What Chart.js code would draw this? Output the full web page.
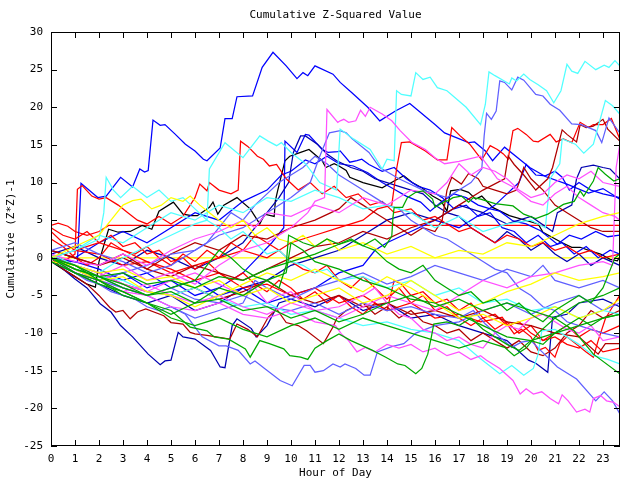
<!DOCTYPE html>
<html>
<head>
<meta charset="utf-8">
<script src="https://cdn.jsdelivr.net/npm/chart.js@4.4.0/dist/chart.umd.min.js"></script>
<style>
  html, body { margin: 0; padding: 0; background: #fff; }
  #wrap { width: 640px; height: 480px; }
</style>
</head>
<body>
<div id="wrap"><canvas id="c" width="640" height="480"></canvas></div>
<script>
// hour of day vs cumulative (Z*Z)-1, points as [hour, value]
const titleText = "Cumulative Z-Squared Value";
const xTitle = "Hour of Day";
const yTitle = "Cumulative (Z*Z)-1";
const yTicks = [-25, -20, -15, -10, -5, 0, 5, 10, 15, 20, 25, 30];
const hourTicks = [0,1,2,3,4,5,6,7,8,9,10,11,12,13,14,15,16,17,18,19,20,21,22,23];

const blueBig = [[0,0],[0.5,-0.3],[1.1,-0.6],[1.25,9.9],[1.95,8.0],[2.3,8.2],[2.9,10.7],[3.4,9.4],[3.7,11.8],[3.9,11.4],[4.05,11.6],[4.25,18.3],[4.55,17.6],[4.75,17.7],[5.15,16.5],[5.6,15.1],[6.0,14.2],[6.35,13.1],[6.5,12.9],[7.05,14.6],[7.25,18.5],[7.55,18.5],[7.75,21.4],[8.4,21.5],[8.8,25.3],[9.25,27.3],[9.8,25.5],[10.25,23.8],[10.5,24.6],[10.7,24.2],[11.0,25.5],[11.75,24.4],[12.05,23.3],[12.55,21.9],[13.2,20],[13.7,18.2],[14.35,19.5],[14.95,20.5],[16.0,17.7],[16.4,16.6],[17.4,15.3],[17.65,15.4],[18.1,14.2],[18.4,12.9],[18.9,14.7],[19.95,12],[20.6,10.8],[21.5,9.8],[22.4,8.6],[23.0,9.2],[23.7,7.8]];
const cyanTop = [[0,0.5],[1,-1],[2,-2],[3,0],[4,1.5],[5,3],[6,4.5],[6.5,5],[6.6,11.8],[7.25,15.3],[8.0,13.3],[8.7,16.2],[9.05,15.5],[9.4,14.9],[9.6,15.3],[10.0,14.0],[10.6,12.5],[11.2,10],[11.9,9],[12.05,17.1],[12.6,15.8],[13.3,14.4],[13.8,11.8],[14.0,13.1],[14.3,12.9],[14.4,22.2],[14.6,21.7],[15.0,21.5],[15.2,24.6],[15.5,23.7],[15.8,24],[16.1,22.6],[16.5,22.2],[16.9,21.1],[17.3,20],[17.9,17.7],[18.1,20.4],[18.25,24.7],[18.5,24.2],[19.1,23.1],[19.2,23.9],[19.4,23.5],[19.7,24.4],[19.95,23.7],[20.3,23],[20.65,22.2],[20.95,20.6],[21.25,22.2],[21.5,25.7],[21.7,24.8],[21.95,24.5],[22.25,26.1],[22.7,25],[23.05,25.6],[23.25,25.3],[23.5,26.2],[23.7,25.5]];
const cyanHigh = [[0,0],[1,1],[2,3],[3,2],[4,4],[5,6],[6,5],[7,7],[8,6],[9,8],[10,7.5],[11,9],[12,8],[13,6.5],[14,7],[15,6],[16,4],[17,5.5],[18,3.5],[19,4.5],[20,5],[20.6,4],[20.8,10.5],[21.2,12.5],[21.3,15.8],[21.85,15.1],[22.2,13.9],[22.6,15.1],[23.1,20.9],[23.4,20.2],[23.7,19.1]];
const lblueHigh = [[0,0],[1,-1.5],[2,-3],[3,-2],[4,-1],[5,0.5],[6,1],[7,3],[8,4],[9,6],[10,8],[10.8,10],[11.2,13.5],[11.6,16.6],[12.05,16.9],[12.3,16.6],[12.55,15.8],[13.25,14],[13.7,12],[14.5,10.5],[15.5,9],[16.5,8],[17.5,10],[17.95,11.8],[18.05,16.2],[18.15,19.2],[18.35,18.4],[18.55,19.5],[18.7,23.5],[18.9,23.3],[19.2,22.3],[19.45,24],[19.7,23.6],[20.2,21.7],[20.5,21.5],[20.8,20.4],[21.2,19.6],[21.7,17.8],[22.1,17.7],[22.7,16.9],[22.95,15.3],[23.25,18.6],[23.7,16.6]];
const magHigh = [[0,0],[1,-1],[2,-2.5],[3,-1],[4,-3],[5,-2],[6,-3.5],[7,-1],[8,1],[9,2],[10,4],[10.7,6],[11.0,7.5],[11.4,8],[11.5,19.7],[11.95,18],[12.05,18.2],[12.2,18.4],[12.4,18],[12.7,18.2],[12.9,19.6],[13.1,18.8],[13.3,20],[13.8,19.1],[14.2,18.2],[14.55,16.9],[15.05,15.3],[15.6,14.4],[16.0,13.3],[16.4,12.5],[17.0,12.8],[17.9,13.5],[18.3,11.8],[18.6,10.5],[19.2,9.5],[20,7.5],[20.5,7],[21,8.5],[21.5,9.5],[22,8],[22.5,7],[23,6],[23.5,5.5],[23.7,5]];
const redHigh = [[0,3.5],[0.5,2],[1,1],[2,0.5],[3,-1],[4,-0.5],[5,-2],[6,-1],[7,0],[8,1],[9,0],[10,2],[11,3],[12,4],[13,5],[13.6,6.5],[14.2,7],[14.4,11.8],[14.6,15.3],[14.95,15.4],[15.6,14.2],[16.1,13],[16.5,13],[16.7,17.3],[17.05,16.2],[17.45,15.1],[17.95,13],[18.3,14.9],[18.6,14.4],[18.85,13.8],[19.05,13.1],[19.25,16.9],[19.45,17.2],[19.8,16.4],[20.1,15.5],[20.3,15.4],[20.8,16.4],[21.05,15.4],[21.35,15.8],[21.7,15.3],[22.05,18],[22.4,17.3],[22.6,17.7],[23.0,17.7],[23.35,18.5],[23.7,15.8]];
const dredHigh = [[0,1],[1,0],[2,-1],[3,0.5],[4,-1.5],[5,-2.5],[6,-1],[7,-2],[8,-3],[9,-1.5],[10,0],[11,1.5],[12,2],[13,3.5],[14,2.5],[15,4],[16,5],[17,7],[18,9],[18.9,10.5],[19.05,13.5],[19.3,12.4],[19.7,11],[20.2,9],[20.7,10.5],[20.9,12],[21.3,17],[21.5,16.4],[21.9,15.4],[22.05,17.7],[22.3,17.3],[22.6,17.5],[23.0,18.4],[23.2,17.1],[23.7,15.5]];
const magEdge = [[0,0],[1,-1.5],[2,-3],[3,-4.5],[4,-3.5],[5,-5],[6,-6],[7,-5],[8,-6.5],[9,-7.5],[10,-6],[11,-7],[12,-8],[13,-6.5],[14,-5],[15,-6],[16,-7],[17,-5],[18,-3],[19,-4],[20,-2.5],[21,-2],[22,-1],[23,-0.5],[23.4,-1],[23.55,12],[23.7,15]];
const dblueTwelve = [[0,0],[1,-2],[2,-3.5],[3,-5],[4,-6],[5,-5],[6,-7],[7,-6],[8,-4],[9,-3],[10,-1],[11,0],[12,1],[13,3],[14,5],[15,6],[16,5],[17,7],[18,6],[19,4.5],[20,5.5],[20.9,3.5],[21.1,6],[21.7,7],[21.9,10.5],[22.1,12],[22.6,12.3],[23.0,12],[23.3,11.8],[23.7,10.5]];
const black1 = [[0,-0.5],[0.5,-1.5],[1,-2.5],[1.5,-3.5],[1.85,-3.9],[2.0,-0.5],[2.4,3.8],[2.8,3.4],[3.3,3.5],[3.8,4.3],[4.2,3.8],[4.5,6.2],[5.1,7.4],[5.5,5.8],[5.85,5.6],[6.1,5.6],[6.6,6.7],[6.75,7.4],[6.95,5.8],[7.2,7],[7.75,8],[8.3,6.5],[8.7,4.5],[8.9,5.8],[9.3,5.5],[9.35,7.6],[9.45,9],[9.75,12.9],[9.95,13.5],[10.4,14],[10.75,14.4],[11.3,12.9],[11.45,12],[11.8,12.5],[12.0,12.2],[12.3,11.6],[12.45,10.7],[13.0,10],[13.8,9.3],[14.3,10.2],[14.7,10.9],[15.05,10],[15.45,9.3],[15.9,8.2],[16.25,7.6],[16.5,6.2],[16.65,8.9],[17.05,9.1],[17.4,8.7],[17.7,7.8],[17.95,8.2],[18.4,6.7],[19.1,5.6],[20.3,4.5],[20.5,3.4],[21.3,2],[21.7,1.4],[22.05,1.4],[22.5,0.9],[22.9,0.5],[23.3,-0.2],[23.6,-0.4],[23.7,0.1]];
const redFlat = [[0,4.3],[0.3,4.6],[0.7,4.2],[1,3.5],[1.5,3],[2,3.5],[2.4,4.3],[23.7,4.3]];
const yellowFlat = [[0,0],[23.7,0]];
const dblueLow = [[0,0],[0.5,-1.5],[1,-2.8],[1.5,-4],[2.05,-6.1],[2.5,-7.2],[2.9,-9],[3.4,-10.5],[4.05,-12.8],[4.55,-14.2],[4.75,-13.7],[5.0,-13.6],[5.3,-9.9],[5.5,-10.5],[6.0,-10.8],[6.65,-12.3],[7.05,-14.5],[7.25,-14.6],[7.55,-9],[7.75,-8.1],[8.35,-9.4],[8.55,-10.5],[9,-9],[9.5,-6],[10,-5.5],[11,-6.5],[12,-5],[13,-7],[14,-6],[15,-8],[16,-7.5],[17,-9],[18,-10],[19,-11],[19.9,-13.6],[20.2,-14],[20.7,-15.2],[20.9,-7.9],[21.5,-7.5],[22,-6],[23,-5.5],[23.7,-6.5]];
const lblueLow = [[0,0],[0.5,-1],[1,-2],[1.5,-3],[2,-3.5],[2.5,-4.5],[3,-5],[3.5,-5.5],[4,-6.5],[4.5,-7],[5,-6.5],[5.6,-7.5],[6.3,-10.5],[7.0,-11.7],[7.3,-11.7],[7.8,-12.3],[8.3,-14.1],[8.5,-13.7],[8.9,-14.7],[9.55,-16.3],[10.05,-17],[10.55,-14.3],[10.8,-14.3],[11.0,-15.2],[11.35,-15],[11.75,-14.1],[12.05,-14.5],[12.25,-14.1],[12.7,-14.7],[13.05,-15.6],[13.3,-15.6],[13.6,-12.5],[14.2,-11.8],[14.7,-11.4],[15.2,-10],[16,-9],[17,-8.5],[18,-7],[19,-6],[20,-7.5],[21,-6],[22,-5],[23,-7],[23.7,-6]];
const magLow = [[0,0],[0.5,-1],[1,-2],[2,-3],[3,-4.5],[4,-5],[5,-6.5],[6,-7],[7,-6],[8,-7.5],[9,-8],[10,-7],[11,-8.5],[11.85,-9],[12.1,-10.1],[12.4,-11],[12.75,-12.5],[13.1,-11.9],[13.5,-12.5],[14,-11.5],[14.5,-12],[15,-11.5],[15.5,-12.5],[16,-12],[16.5,-13],[17,-12.5],[17.5,-13.5],[17.9,-13],[18.15,-13.6],[18.7,-14.7],[19.25,-16.3],[19.55,-18.1],[19.8,-17.4],[20.1,-18.1],[20.45,-17.8],[20.8,-18.7],[21.15,-19.4],[21.3,-18.2],[21.55,-19],[21.9,-20.5],[22.25,-20.1],[22.45,-20.5],[22.6,-18.7],[22.9,-18.3],[23.15,-19],[23.45,-19.2],[23.7,-19.8]];
const lblueEnd = [[0,0],[1,-1.5],[2,-3],[3,-4],[4,-5],[5,-4],[6,-5.5],[7,-6],[8,-5],[9,-6.5],[10,-7],[11,-6],[12,-7.5],[13,-6],[14,-7],[15,-6.5],[16,-7.5],[17,-8],[17.6,-7],[18.1,-8.8],[18.7,-10.5],[19.2,-11.9],[19.6,-11.2],[20.0,-11],[20.4,-12.3],[21.1,-14.5],[21.9,-16.1],[22.7,-19],[23.05,-17.8],[23.4,-19],[23.7,-20.7]];
const greenEnd = [[0,0],[1,-1.5],[2,-2.5],[3,-4],[4,-5],[5,-4.5],[6,-6],[7,-5.5],[8,-7],[9,-6.5],[10,-8],[11,-7],[12,-8.5],[13,-7.5],[14,-6],[15,-5],[16,-6.5],[17,-5.5],[18,-7],[19,-6],[20,-7],[21,-8],[21.8,-9.7],[22.6,-12.8],[23.7,-15.4]];
const greenLow = [[0,0],[1,-2],[2,-3.5],[3,-4.5],[4,-6],[5,-7],[5.8,-9.2],[6.5,-9.7],[6.8,-10.5],[7.4,-10.8],[8.1,-12.1],[8.3,-13.2],[8.7,-11],[9.1,-11.4],[9.7,-12.1],[9.95,-13],[10.4,-13.2],[10.7,-13.5],[11,-12],[11.5,-11],[12,-10.1],[12.5,-11],[13.4,-12.3],[13.95,-13.2],[14.45,-14.1],[14.75,-14.3],[15.2,-15.4],[15.45,-14.7],[15.7,-12.8],[15.85,-10.5],[15.95,-8.8],[16.5,-8.5],[17,-9],[17.5,-8],[18,-9.5],[18.5,-10.5],[19,-11.5],[19.5,-12.3],[20,-11],[20.5,-11.5],[21,-10],[21.5,-9],[22,-8],[22.5,-9],[23,-8],[23.7,-7.5]];
const dredEnd = [[0,0.5],[1,-1],[2,-2],[3,-3.5],[4,-4.5],[5,-5],[6,-4],[7,-5.5],[8,-4.5],[9,-3],[10,-5],[11,-6],[12,-5],[13,-6.5],[14,-6],[15,-7.5],[16,-7],[17,-8],[18,-7],[19,-8.5],[20,-9],[21,-10],[22,-10.5],[22.8,-12.8],[23.1,-11.4],[23.7,-11.4]];
const redLow = [[0,0],[1,1],[2,2],[3,1],[4,-0.5],[5,-1.5],[6,-3],[7,-2],[8,-4],[9,-3.5],[10,-5],[11,-4],[12,-6],[13,-5],[14,-7],[15,-6],[16,-8],[17,-7.5],[17.9,-8.5],[18.4,-8.2],[18.8,-7.9],[19.3,-10.1],[19.6,-9.5],[20.0,-10.5],[20.3,-12.3],[20.6,-11.9],[21.0,-13.2],[21.2,-11.4],[21.5,-10.5],[21.9,-11.5],[22.3,-12.5],[22.6,-13.2],[22.8,-11],[23.1,-8.1],[23.4,-6.5],[23.7,-5]];
const cyanLow = [[0,0],[1,-1.5],[2,-2.5],[3,-3],[4,-4.5],[5,-5],[6,-4],[7,-5.5],[8,-6.5],[9,-6],[10,-7.5],[11,-7],[12,-8],[13,-9],[14,-8.5],[15,-9.5],[16,-10],[17,-11],[17.9,-13.4],[18.7,-15.4],[19.2,-14.3],[19.7,-15.6],[20.1,-14.7],[20.3,-12.8],[20.45,-9.7],[21,-9.5],[21.5,-10.5],[22,-11.5],[22.6,-13],[23.2,-13.5],[23.7,-14.1]];
const greenUp = [[0,0],[1,-1],[2,-2.5],[3,-2],[4,-3.5],[5,-3],[6,-4],[7,-2.5],[8,-3],[9,-1.5],[10,-0.5],[11,0.5],[12,1.8],[12.5,2.5],[13,1.6],[13.5,2.5],[13.9,1.4],[14.2,2.9],[14.25,5.4],[14.3,6.7],[14.65,6.7],[14.85,8],[15.2,8.7],[15.5,8.9],[15.9,7.8],[16.0,6.7],[16.4,7.5],[16.55,7.6],[16.75,8],[17.1,8.2],[17.4,7.4],[17.6,8],[17.9,7.8],[18.5,7.2],[19.25,6.9],[19.7,5.8],[20.2,5.2],[20.7,5.8],[21.35,7.1],[21.8,7.5],[22.05,8.9],[22.2,8.2],[22.6,10.2],[22.8,12],[23.1,11.1],[23.45,10.2],[23.7,10.5]];
const redJump = [[0,0],[0.5,-0.5],[1,0.5],[1.1,9.1],[1.3,9.6],[1.7,8.2],[2.0,7.8],[2.3,8],[2.8,7],[3.2,6],[3.6,5],[4,4.5],[4.5,5.5],[5,4.5],[5.5,5.5],[6,8],[6.2,9.8],[6.5,8.9],[6.6,10],[7,9],[7.5,8.5],[7.8,9],[7.9,15.5],[8.2,14.8],[8.6,13.5],[8.85,13.1],[9.1,12.2],[9.4,12.4],[9.8,10.5],[10.3,9],[10.8,10],[11.3,8.5],[11.8,9.5],[12.3,8],[12.8,8.5],[13.3,7],[13.8,7.5],[14.3,6],[15,6.5],[15.5,5],[16,5.5],[16.5,4.5],[17,3.5],[17.5,4],[18,3],[18.5,2],[19,3],[19.5,2.5],[20,1.5],[20.5,2],[21,1],[21.5,1.5],[22,0.5],[22.5,1],[23,0],[23.7,0.5]];
const blueMid = [[0,1],[1,0],[2,2],[3,3.5],[4,2],[5,4],[6,6],[7,5],[8,7.5],[9,9],[9.6,11],[10,11.5],[10.6,13],[11,12.5],[11.5,13.5],[12,12.5],[12.6,12.2],[13.2,11.3],[13.8,10],[14.3,9.1],[14.8,8.2],[15.4,7.4],[15.8,6.2],[16.3,7.5],[16.8,8.5],[17.3,8],[17.8,7],[18.3,6.5],[18.7,6.2],[19.25,4.9],[19.8,4.5],[20.4,3.6],[21.1,1.8],[21.6,3],[22.1,2.5],[22.7,3.5],[23.2,2.8],[23.7,3]];
const blueStep = [[0,-0.5],[1,-2],[2,-3],[3,-2],[4,-4],[5,-3],[6,-5],[7,-4],[8,-2],[8.6,0],[9.2,2],[9.7,4],[9.75,15.5],[10.25,14],[10.6,16.4],[10.75,16.3],[11.3,14.4],[11.55,14],[11.95,14.1],[12.05,14.2],[12.45,12.7],[12.75,12.9],[12.95,13.1],[13.25,12.4],[13.8,11.5],[14.3,12],[14.8,10.5],[15.3,9.5],[15.8,9],[16.3,8],[16.8,6.5],[17.3,7],[17.8,5.5],[18.3,6],[18.8,4],[19.3,3.5],[19.8,2],[20.3,3],[20.8,1.5],[21.3,2],[21.8,0.5],[22.3,1.5],[22.8,0],[23.3,1],[23.7,0.5]];
const blueLate = [[0,0],[1,-0.5],[2,-1.5],[3,-3],[4,-2],[5,-4],[6,-3],[7,-5],[8,-4],[9,-6],[10,-5],[11,-4],[12,-2],[13,-1],[13.5,1],[14,2],[15,3.5],[16,5],[17,4],[18,6],[18.5,7],[19,8.5],[19.5,10],[19.8,12.4],[20.2,11],[20.6,10.9],[21,11.5],[21.3,10.7],[21.6,9],[22,10],[22.5,9],[23,8.5],[23.7,8]];
const yellowHigh = [[0,0],[1,1.5],[2,3],[2.5,5],[3,7],[3.4,7.6],[3.75,7.8],[4.2,6.5],[4.6,7],[5,8],[5.5,7.5],[5.8,8.2],[6.2,7],[6.6,6],[7,5],[7.5,4],[8,5],[8.5,3],[9,4],[9.5,2.5],[10,2],[10.5,3],[11,1.5],[11.5,2.5],[12,1],[13,2],[14,0.5],[15,1.5],[16,0],[17,1],[18,0.5],[19,2],[20,1.5],[21,3],[22,4.5],[23,5.5],[23.7,6]];
const yellowMid = [[0,-0.5],[1,-1],[2,-2],[3,-1.5],[4,-3],[5,-2.5],[6,-4],[7,-3],[8,-5],[9,-4],[10,-6],[11,-5],[12,-4],[13,-6],[14,-5],[15,-3],[16,-5],[17,-7],[18,-6],[19,-4.5],[20,-3.5],[21,-2],[22,-3],[23,-2.5],[23.7,-2]];
const yellowLow = [[0,0],[1,-1.5],[2,-3],[3,-2.5],[4,-4.5],[5,-5],[6,-6.5],[7,-5],[8,-3.5],[9,-2],[10,-3],[11,-1.5],[12,-3],[13,-4.5],[14,-2.5],[15,-4],[16,-6],[17,-8],[18,-7.5],[19,-9],[20,-8],[21,-6.5],[22,-8],[23,-7],[23.7,-5.5]];
const greenMid = [[0,-0.5],[1,-2],[2,-3],[3,-4.5],[4,-6],[5,-7.5],[6,-6],[7,-4],[8,-5],[9,-3],[9.8,-2],[10,2],[10.5,1],[11,-0.5],[12,-1.5],[13,-3],[14,-4],[15,-5.5],[16,-6],[17,-7.5],[18,-9],[19,-10.5],[20,-11],[21,-10],[22,-9],[23,-8],[23.7,-7.5]];
const greenDeep = [[0,0],[1,-1],[2,-3],[3,-5],[4,-6],[5,-8],[6,-9],[7,-8],[8,-9.5],[9,-10.5],[10,-9],[11,-8],[12,-9.5],[13,-8],[14,-9],[15,-10],[16,-11],[17,-12],[18,-11],[18.9,-11.9],[19.3,-13],[19.8,-12],[20.3,-10],[21,-8],[22,-6],[23,-5],[23.7,-4]];
const dredMid = [[0,0],[0.5,-1.5],[1,-2.5],[1.5,-3.5],[2,-5],[2.45,-6.6],[2.7,-7.2],[3.0,-7],[3.3,-8.1],[3.6,-7.2],[3.95,-6.8],[4.7,-7.7],[5.0,-8.6],[5.5,-8.8],[5.8,-9.9],[6.0,-10.1],[6.5,-10.3],[7.45,-10.8],[7.75,-8.8],[8.2,-9.5],[8.6,-10.5],[9.05,-7.9],[9.4,-6.8],[9.8,-8.6],[10.3,-9],[10.65,-9.7],[11.35,-11.4],[11.75,-9.2],[11.9,-8.1],[12.3,-7],[13,-6],[13.5,-7.5],[14,-6.5],[14.5,-8],[15,-7],[15.5,-8.5],[16,-9],[16.5,-10],[17,-9.5],[17.5,-11],[18,-10],[19,-12],[19.5,-11],[20,-12.5],[20.5,-13],[21,-12],[21.5,-10],[22,-9],[22.5,-7],[23,-8],[23.7,-7]];
const redDown = [[0,2.5],[0.5,1.5],[1,0],[1.5,-1],[2,0],[2.5,2],[3,1],[3.5,0.5],[4,1.5],[4.5,0],[5,-1],[5.5,0.5],[6,-0.5],[6.5,1],[7,0],[7.5,2],[8,1],[8.5,3],[9,2],[9.5,1],[10,-0.5],[10.5,-1.5],[11,-2],[11.5,-1],[12,-3],[12.5,-4],[13,-2.5],[13.5,-4],[14,-5.5],[14.5,-4],[15,-6],[15.5,-5],[16,-7],[16.5,-6.5],[17,-8],[17.5,-9],[18,-8],[18.5,-9.5],[19,-8.5],[19.5,-10],[20,-9],[20.5,-11],[21,-10.5],[21.5,-11.5],[22,-12],[22.5,-11],[23,-12.5],[23.7,-12]];
const redSlow = [[0,4],[0.5,3],[1,2.5],[1.5,3.5],[2,2],[2.5,3],[3,1.5],[3.5,2],[4,0.5],[4.5,1],[5,-0.5],[5.5,0],[6,-1.5],[6.5,-0.5],[7,-2],[7.5,-3],[8,-2],[8.5,-3.5],[9,-4.5],[9.5,-3],[10,-4],[10.5,-5.5],[11,-4.5],[11.5,-6],[12,-5],[12.5,-6.5],[13,-7.5],[13.5,-6],[14,-7],[14.3,-3],[14.6,-3.5],[15,-5],[15.5,-4.5],[16,-6],[16.5,-5.5],[17,-7],[17.5,-6],[18,-8],[18.5,-7.5],[19,-9],[19.5,-8.5],[20,-10],[20.5,-11],[21,-10],[21.5,-9],[22,-10.5],[22.5,-9.5],[23,-10],[23.7,-9]];
const magMid = [[0,0.5],[1,-0.5],[2,-1],[3,0.5],[4,-1],[5,1],[6,2.5],[7,3.5],[8,5],[8.5,4],[9,6],[10,5.5],[11,7],[12,6],[13,8],[14,7],[15,9],[16,8.5],[16.5,10],[17,12.5],[17.5,11],[18,12],[18.5,11.5],[19,10.5],[19.5,9],[20,8],[20.5,8.5],[21,10],[21.5,11],[22,10.5],[22.5,11.5],[23,10],[23.7,9.5]];
const lblueMid = [[0,1],[1,2],[2,0.5],[3,-0.5],[4,-2],[5,-1],[6,1],[6.5,2],[7,4],[7.5,6],[8,5],[8.5,7],[9,8.5],[9.5,10],[10,11],[10.5,12],[11,13.5],[11.5,12.5],[12,11],[12.5,10],[13,9],[13.5,8],[14,7],[14.5,6.5],[15,5],[15.5,4],[16,3],[16.5,2.5],[17,1.5],[17.5,0.5],[18,-0.5],[18.5,-1.5],[19,-2],[19.5,-4],[20,-5],[20.5,-6.5],[21,-7],[21.5,-8.5],[22,-9],[22.5,-9.5],[23,-10],[23.7,-10.5]];
const cyanMid = [[0,0],[1,1],[2,2.5],[2.2,6],[2.3,10.7],[2.6,9],[2.9,8],[3.4,9.5],[4,8],[4.5,9],[5,7.5],[5.5,8],[6,6.5],[6.5,5],[7,4],[7.5,2.5],[8,3.5],[8.5,2],[9,0.5],[9.5,1],[10,-0.5],[10.5,-1],[11,-2],[11.5,-1.5],[12,-3],[13,-2.5],[14,-4],[15,-3],[16,-5],[17,-4],[18,-6],[19,-5.5],[20,-7],[21,-6.5],[22,-8],[23,-7],[23.7,-7.5]];
const greenFlat = [[0,0],[1,-1.5],[2,-2.5],[3,-3.5],[4,-5],[5,-4],[6,-3],[6.5,-1],[7,1],[7.5,0],[8,-1.5],[8.5,-2.5],[9,-3],[9.5,-4],[9.8,-1],[9.9,3],[10.5,2],[11,1.5],[11.5,2.5],[12,1.8],[12.5,2.3],[13,1.6],[13.5,1],[14,-0.5],[14.5,-1.5],[15,-2],[15.5,-1],[16,-3],[16.5,-4],[17,-5],[17.5,-4.5],[18,-6],[18.5,-5.5],[19,-7],[19.5,-6],[20,-7.5],[20.5,-8.5],[21,-7],[21.5,-6],[22,-5],[22.5,-6],[23,-4],[23.5,0],[23.7,0.5]];
const dredUp = [[0,1],[1,0],[2,-1],[3,0],[4,-1.5],[5,0.5],[6,2],[7,1],[8,3],[9,2.5],[10,4],[11,5],[12,6.5],[12.5,8],[13,7],[13.5,6],[14,5],[14.5,4],[15,3],[15.5,4],[16,3.5],[16.3,5],[16.5,9],[16.7,10.7],[17.1,9.8],[17.4,11.2],[17.8,10.5],[18,9.5],[18.5,9],[19,8.5],[19.4,9],[19.7,12],[20,10.5],[20.5,9],[21,7],[21.5,6],[22,5],[22.5,4],[23,3.5],[23.7,3.5]];
const dblueUp = [[0,0.5],[1,1.5],[2,0],[3,-1],[4,1],[5,0],[6,-1.5],[7,0],[8,2],[8.5,4],[9,6],[9.5,8],[9.9,10],[10.1,14],[10.4,16.2],[10.6,16.2],[11.1,15.1],[11.5,13.8],[11.9,12.9],[12.5,12],[13,11.5],[13.5,10.5],[14,10],[14.5,9.5],[15,9],[15.5,8.5],[16,7],[16.5,6],[17,5.5],[17.5,4],[18,3],[18.5,2],[19,3.5],[19.5,2.5],[20,1],[20.5,2],[21,0.5],[21.5,-0.5],[22,0.5],[22.5,-1],[23,0],[23.7,-1]];
const magDown = [[0,0],[1,-1],[2,-2],[3,-3.5],[4,-4.5],[5,-3],[6,-2],[7,-3.5],[8,-5],[8.5,-4],[9,-6],[9.5,-5],[10,-4.5],[10.5,-6],[11,-7],[12,-6.5],[13,-5],[13.5,-4],[14,-6],[14.5,-7.5],[15,-8],[15.5,-9.5],[16,-10],[16.5,-11],[17,-10.5],[17.5,-11.5],[18,-12],[18.5,-10],[19,-9],[19.5,-9.5],[20,-8],[20.5,-7.5],[21,-8.5],[21.5,-9.5],[22,-10],[22.5,-9],[23,-11],[23.7,-10.5]];
const lblueWave = [[0,0],[1,-1.5],[2,-2.5],[3,-4],[4,-5],[5,-6.5],[6,-8],[7,-7],[8,-6],[8.5,-3],[9,-4],[10,-5.5],[11,-4],[12,-3],[13,-2],[14,-3.5],[15,-2.5],[16,-1],[17,-2],[18,-3],[19,-1.5],[20,-2.5],[20.5,-1],[21,-3],[22,-4],[23,-3],[23.7,-4]];

const RED = "#ff0000", DRED = "#b00000", GREEN = "#00a800", BLUE = "#0000ff", DBLUE = "#0000b0",
      LBLUE = "#6060ff", MAG = "#ff50ff", CYAN = "#50ffff", YEL = "#ffff00", BLACK = "#000000";

const series = [
  [greenDeep, GREEN], [greenMid, GREEN], [greenLow, GREEN], [greenEnd, GREEN], [greenFlat, GREEN], [greenUp, GREEN],
  [yellowLow, YEL], [yellowMid, YEL], [yellowHigh, YEL],
  [magDown, MAG], [magLow, MAG], [magEdge, MAG], [magMid, MAG], [magHigh, MAG],
  [cyanLow, CYAN], [cyanMid, CYAN], [cyanHigh, CYAN], [cyanTop, CYAN],
  [lblueWave, LBLUE], [lblueLow, LBLUE], [lblueEnd, LBLUE], [lblueMid, LBLUE], [lblueHigh, LBLUE],
  [dredMid, DRED], [dredEnd, DRED], [dredUp, DRED], [dredHigh, DRED],
  [redSlow, RED], [redDown, RED], [redLow, RED], [redJump, RED], [redHigh, RED],
  [dblueLow, DBLUE], [dblueUp, DBLUE], [dblueTwelve, DBLUE],
  [blueLate, BLUE], [blueMid, BLUE], [blueStep, BLUE], [blueBig, BLUE],
  [black1, BLACK], [yellowFlat, YEL], [redFlat, RED]
];

const FONT = "'DejaVu Sans Mono', 'Liberation Mono', monospace";

// gnuplot-style inward ticks on all four sides plus the axis titles
const framePlugin = {
  id: "frame",
  afterDraw(chart) {
    const { ctx, chartArea: a, scales } = chart;
    ctx.save();
    ctx.strokeStyle = "#000";
    ctx.lineWidth = 1;
    ctx.strokeRect(a.left + 0.5, a.top + 0.5, a.right - a.left - 1, a.bottom - a.top - 1);
    ctx.beginPath();
    hourTicks.forEach(h => {
      const x = Math.round(scales.x.getPixelForValue(h)) + 0.5;
      ctx.moveTo(x, a.bottom); ctx.lineTo(x, a.bottom - 6);
      ctx.moveTo(x, a.top); ctx.lineTo(x, a.top + 6);
    });
    yTicks.forEach(v => {
      const y = Math.round(scales.y.getPixelForValue(v)) + 0.5;
      ctx.moveTo(a.left, y); ctx.lineTo(a.left + 6, y);
      ctx.moveTo(a.right, y); ctx.lineTo(a.right - 6, y);
    });
    ctx.stroke();
    ctx.fillStyle = "#000";
    ctx.font = "11px " + FONT;
    ctx.textAlign = "center";
    ctx.textBaseline = "middle";
    const cx = (a.left + a.right) / 2;
    ctx.fillText(titleText, cx, 15);
    ctx.fillText(xTitle, cx, 473);
    ctx.translate(11, (a.top + a.bottom) / 2);
    ctx.rotate(-Math.PI / 2);
    ctx.fillText(yTitle, 0, 0);
    ctx.restore();
  }
};

new Chart(document.getElementById("c"), {
  type: "line",
  data: {
    datasets: series.map(([pts, color]) => ({
      data: pts.map(([x, y]) => ({ x, y })),
      borderColor: color,
      borderWidth: 1.25,
      pointRadius: 0,
      tension: 0,
      fill: false
    }))
  },
  options: {
    responsive: false,
    animation: false,
    events: [],
    layout: { padding: { top: 32, right: 20, left: 0, bottom: 0 } },
    plugins: { legend: { display: false }, tooltip: { enabled: false } },
    scales: {
      x: {
        type: "linear", min: 0, max: 23.71,
        afterBuildTicks: s => { s.ticks = hourTicks.map(v => ({ value: v })); },
        afterFit: s => { s.height = 34; },
        grid: { display: false, drawTicks: false },
        border: { display: false },
        ticks: { color: "#000", font: { family: FONT, size: 11 }, padding: 7, maxRotation: 0, autoSkip: false }
      },
      y: {
        type: "linear", min: -25, max: 30,
        afterBuildTicks: s => { s.ticks = yTicks.map(v => ({ value: v })); },
        afterFit: s => { s.width = 51; },
        grid: { display: false, drawTicks: false },
        border: { display: false },
        ticks: { color: "#000", font: { family: FONT, size: 11 }, padding: 8 }
      }
    }
  },
  plugins: [framePlugin]
});
</script>
</body>
</html>
